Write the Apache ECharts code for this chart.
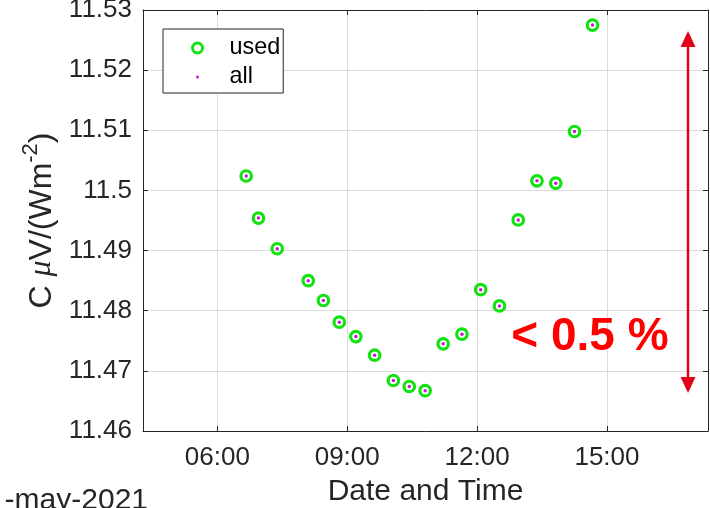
<!DOCTYPE html>
<html>
<head>
<meta charset="utf-8">
<script src="https://cdn.jsdelivr.net/npm/echarts@6/dist/echarts.min.js"></script>
<style>
  html, body { margin: 0; padding: 0; background: #fff; }
  #chart { width: 710px; height: 508px; }
</style>
</head>
<body>
<div id="chart"></div>
<script>
// Calibration run: time of day of each sample and the sensitivity C in µV/(W m^-2)
const sampleTimes = ['06:40', '06:57', '07:23', '08:06', '08:27', '08:49', '09:12', '09:38', '10:04', '10:26',
                     '10:48', '11:13', '11:39', '12:05', '12:31', '12:57', '13:23', '13:49', '14:15', '14:40'];
const usedValues = [11.5024, 11.4954, 11.4903, 11.4850, 11.4817, 11.4781, 11.4757, 11.4726, 11.4684, 11.4674,
                    11.4667, 11.4745, 11.4761, 11.4835, 11.4808, 11.4951, 11.5016, 11.5012, 11.5098, 11.5275];
const allValues  = [11.5024, 11.4954, 11.4903, 11.4850, 11.4817, 11.4781, 11.4757, 11.4726, 11.4684, 11.4674,
                    11.4667, 11.4745, 11.4761, 11.4835, 11.4808, 11.4951, 11.5016, 11.5012, 11.5098, 11.5275];

// Axis extents and ticks
const xRange = ['04:17', '17:20'];
const xTickLabels = ['06:00', '09:00', '12:00', '15:00'];
const yRange = [11.46, 11.53];
const yStep = 0.01;

const toHours = s => { const [h, m] = s.split(':').map(Number); return h + m / 60; };
const fmtHM = v => {
  const t = Math.round(v * 60);
  return String(Math.floor(t / 60)).padStart(2, '0') + ':' + String(t % 60).padStart(2, '0');
};
const fmtY = v => String(Number(v.toFixed(2)));
const pairs = vals => sampleTimes.map((t, i) => [toHours(t), vals[i]]);

const FONT = '"Liberation Sans", Arial, Helvetica, sans-serif';
const INK = '#262626';
const GRID = '#dcdcdc';
const GREEN = '#12e212';
const MAGENTA = '#c21fc8';
const xTickValues = xTickLabels.map(toHours);

const boxAxisX = (pos, main) => ({
  type: 'value', position: pos,
  min: toHours(xRange[0]), max: toHours(xRange[1]),
  axisLine: { show: true, onZero: false, lineStyle: { color: INK, width: 1 } },
  axisTick: { show: true, inside: true, length: 5, customValues: xTickValues, lineStyle: { color: INK, width: 1 } },
  axisLabel: main ? { show: true, customValues: xTickValues, formatter: fmtHM, fontSize: 26, color: INK, margin: 14, fontFamily: FONT }
                  : { show: false, customValues: xTickValues },
  splitLine: { show: main, lineStyle: { color: GRID, width: 1 } }
});
const boxAxisY = (pos, main) => ({
  type: 'value', position: pos,
  min: yRange[0], max: yRange[1], interval: yStep,
  axisLine: { show: true, onZero: false, lineStyle: { color: INK, width: 1 } },
  axisTick: { show: true, inside: true, length: 5, lineStyle: { color: INK, width: 1 } },
  axisLabel: main ? { show: true, formatter: fmtY, fontSize: 26, color: INK, margin: 11, fontFamily: FONT } : { show: false },
  splitLine: { show: main, lineStyle: { color: GRID, width: 1 } }
});

const xMain = boxAxisX('bottom', true);
xMain.name = 'Date and Time';
xMain.nameLocation = 'middle';
xMain.nameGap = 46;
xMain.nameTextStyle = { fontSize: 30, color: INK, fontFamily: FONT };

const yMain = boxAxisY('left', true);
yMain.name = '{a|C }{mu|μ}{a|V/(Wm}{s|-2}{a|)}';
yMain.nameLocation = 'middle';
yMain.nameRotate = 90;
yMain.nameGap = 84;
yMain.nameTextStyle = {
  color: INK, fontFamily: FONT, fontSize: 32,
  rich: {
    a: { fontSize: 32, color: INK, fontFamily: FONT, lineHeight: 38, verticalAlign: 'bottom' },
    mu: { fontSize: 32, color: INK, fontFamily: '"Liberation Serif", serif', fontStyle: 'italic', lineHeight: 38, verticalAlign: 'bottom' },
    s: { fontSize: 22, color: INK, fontFamily: FONT, lineHeight: 38, verticalAlign: 'top' }
  }
};

const chart = echarts.init(document.getElementById('chart'), null, { renderer: 'canvas' });
chart.setOption({
  animation: false,
  backgroundColor: '#fff',
  textStyle: { fontFamily: FONT },
  grid: { left: 143, right: 2, top: 10, bottom: 77, containLabel: false, outerBoundsMode: 'none' },
  xAxis: [xMain, boxAxisX('top', false)],
  yAxis: [yMain, boxAxisY('right', false)],
  legend: {
    orient: 'vertical', left: 163, top: 29,
    padding: [7, 3, 4, 26], itemGap: 5, itemWidth: 10, itemHeight: 10,
    borderColor: INK, borderWidth: 1, backgroundColor: '#fff',
    textStyle: { fontSize: 23.4, color: '#000', lineHeight: 24, padding: [0, 0, 0, 22], fontFamily: FONT },
    data: [
      { name: 'used', icon: 'circle', itemStyle: { color: 'rgba(0,0,0,0)', borderColor: GREEN, borderWidth: 3 } },
      { name: 'all', icon: 'circle', itemStyle: { color: MAGENTA, borderColor: '#fff', borderWidth: 7 } }
    ]
  },
  series: [
    {
      name: 'used', type: 'scatter', xAxisIndex: 0, yAxisIndex: 0,
      symbol: 'circle', symbolSize: 10.5,
      itemStyle: { color: 'rgba(0,0,0,0)', borderColor: GREEN, borderWidth: 3.2, opacity: 1 },
      data: pairs(usedValues), z: 3
    },
    {
      name: 'all', type: 'scatter', xAxisIndex: 0, yAxisIndex: 0,
      symbol: 'circle', symbolSize: 3.5,
      itemStyle: { color: MAGENTA, opacity: 1 },
      data: pairs(allValues), z: 4
    }
  ],
  graphic: [
    // spread annotation: double-headed arrow and its label
    { type: 'line', shape: { x1: 688, y1: 45, x2: 688, y2: 379 }, style: { stroke: '#e4001b', lineWidth: 2.5 }, z: 10 },
    { type: 'polygon', shape: { points: [[688, 31], [680.5, 47], [695.5, 47]] }, style: { fill: '#e4001b' }, z: 10 },
    { type: 'polygon', shape: { points: [[688, 393], [680.5, 377], [695.5, 377]] }, style: { fill: '#e4001b' }, z: 10 },
    { type: 'text', x: 590, y: 337, style: { text: '< 0.5 %', fill: '#ff0000', font: 'bold 46px ' + FONT, textAlign: 'center', textVerticalAlign: 'middle', verticalAlign: 'middle' }, z: 10 },
    // date of the run
    { type: 'text', x: 148, y: 501, style: { text: '-may-2021', fill: INK, font: '30px ' + FONT, textAlign: 'right', textVerticalAlign: 'middle', verticalAlign: 'middle' }, z: 10 }
  ]
});
</script>
</body>
</html>
